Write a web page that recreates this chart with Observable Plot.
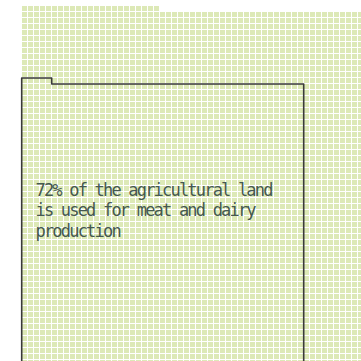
<!DOCTYPE html>
<html>
<head>
<meta charset="utf-8">
<script src="https://cdn.jsdelivr.net/npm/d3@7"></script>
<script src="https://cdn.jsdelivr.net/npm/@observablehq/plot@0.6"></script>
<style>
  html, body { margin: 0; padding: 0; background: #fff; overflow: hidden; }
</style>
</head>
<body>
<div id="chart"></div>
<script>
// ---- data (visible part of the waffle) ----
const gridColumns = 57;          // cells per row of the whole agricultural-land waffle
const gridRows = 60;             // rows visible
const totalCells = 59 * 57 + 23; // visible cells (top row partially filled)
const highlightColumns = 47;     // cells per row of the meat & dairy block
const highlightCells = 47 * 47 + 5; // visible cells of the 72% block
const label = ["72% of the agricultural land", "is used for meat and dairy", "production"];

// ---- build waffle cells (filled bottom-up, left to right) ----
const cells = d3.range(totalCells).map(i => ({
  col: i % gridColumns,
  row: gridRows - 1 - Math.floor(i / gridColumns)
}));

// outline of the highlighted block, derived from its count
const fullRows = Math.floor(highlightCells / highlightColumns);
const rem = highlightCells % highlightColumns;
const topFull = gridRows - fullRows;
const outline = rem > 0
  ? [[0, gridRows], [0, topFull - 1], [rem, topFull - 1], [rem, topFull], [highlightColumns, topFull], [highlightColumns, gridRows]]
  : [[0, gridRows], [0, topFull], [highlightColumns, topFull], [highlightColumns, gridRows]];

const W = 361, H = 361, ML = 22, MT = 6, pitch = 6;

const chart = Plot.plot({
  width: W,
  height: H,
  marginLeft: ML,
  marginTop: MT,
  marginRight: 0,
  marginBottom: 0,
  style: { background: "#fff", overflow: "hidden", letterSpacing: "-1.8px" },
  x: { axis: null, domain: [0, (W - ML) / pitch] },
  y: { axis: null, domain: [0, (H - MT) / pitch], reverse: true },
  marks: [
    Plot.rect(cells, {
      x1: "col", x2: d => d.col + 1,
      y1: "row", y2: d => d.row + 1,
      insetRight: 1, insetBottom: 1,
      fill: "#dde9b7"
    }),
    Plot.line(outline, {
      x: d => d[0], y: d => d[1],
      dx: -0.8, dy: -0.5,
      stroke: "#3a3a3a", strokeWidth: 1.6, curve: "linear"
    }),
    Plot.text([label.join("\n")], {
      frameAnchor: "top-left",
      dx: 13, dy: 174.9,
      lineAnchor: "top",
      lineHeight: 1.206,
      textAnchor: "start",
      fontFamily: "DejaVu Sans Mono",
      fontSize: 17,
      fill: "#45584f"
    })
  ]
});
document.getElementById("chart").appendChild(chart);
</script>
</body>
</html>
